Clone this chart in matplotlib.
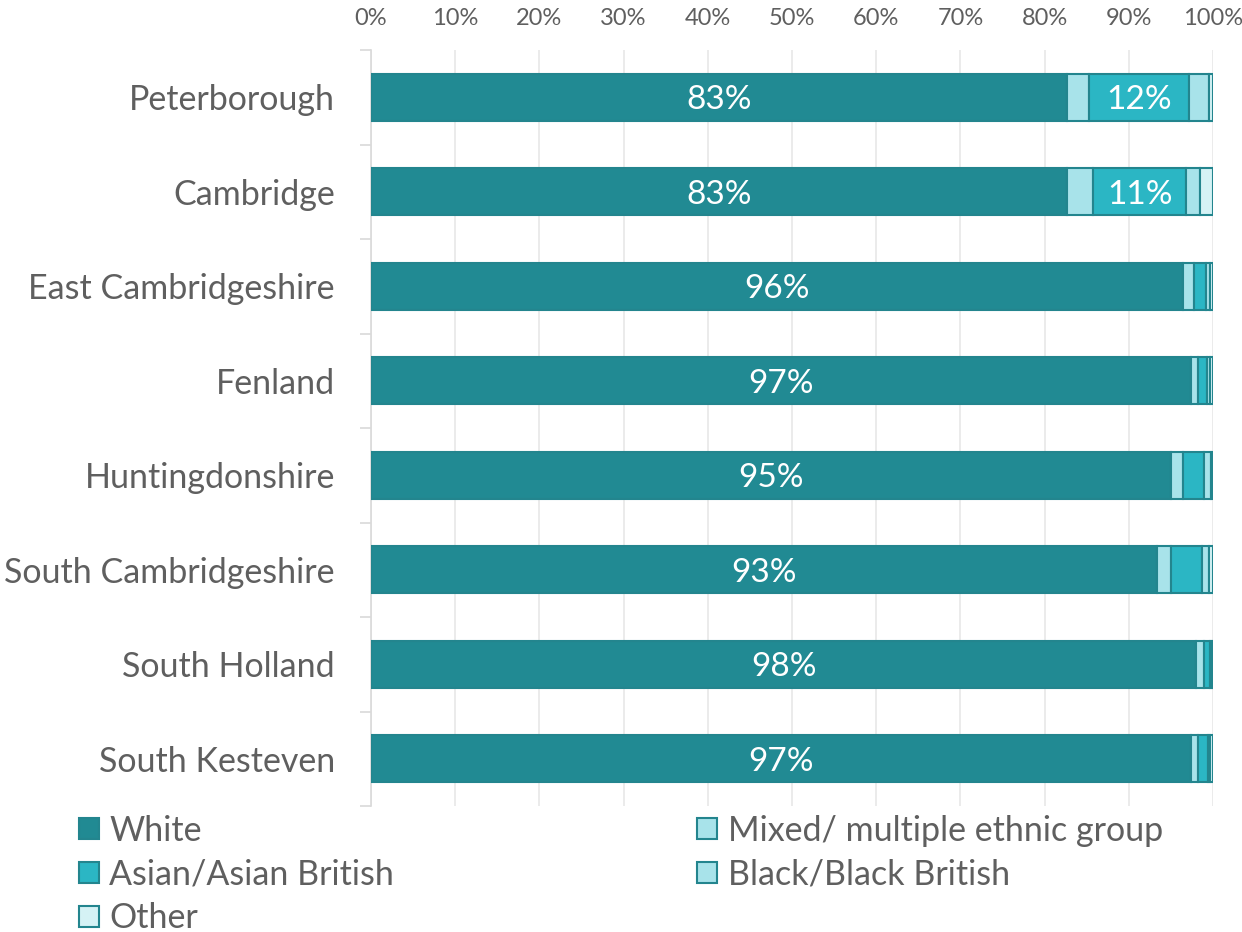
import numpy as np
import matplotlib.pyplot as plt
from matplotlib.patches import Patch

plt.rcParams['font.family'] = ['Lato', 'DejaVu Sans']

areas = ['Peterborough', 'Cambridge', 'East Cambridgeshire', 'Fenland',
         'Huntingdonshire', 'South Cambridgeshire', 'South Holland', 'South Kesteven']

# share of each group, %
white = [82.7, 82.7, 96.4, 97.4, 95.0, 93.4, 98.0, 97.4]
mixed = [2.6, 3.1, 1.3, 0.8, 1.4, 1.6, 0.9, 0.8]
asian = [11.8, 11.0, 1.5, 1.1, 2.5, 3.7, 0.8, 1.2]
black = [2.4, 1.7, 0.5, 0.4, 0.9, 0.8, 0.2, 0.3]
other = [0.5, 1.5, 0.3, 0.3, 0.2, 0.5, 0.1, 0.3]

series = [('White', white, '#218A93'),
          ('Mixed/ multiple ethnic group', mixed, '#A8E3EA'),
          ('Asian/Asian British', asian, '#2BB6C4'),
          ('Black/Black British', black, '#A8E3EA'),
          ('Other', other, '#D5F2F5')]

edge = '#23858E'
grey = '#5F5F5F'

fig = plt.figure(figsize=(12.42, 9.32), dpi=100)
ax = fig.add_axes([371 / 1242, 1 - 806 / 932, 842 / 1242, 756 / 932])

y = np.arange(len(areas))
left = np.zeros(len(areas))
handles = {}
for name, vals, col in series:
    vals = np.array(vals)
    ax.barh(y, vals, left=left, height=0.5, color=col, edgecolor=edge, linewidth=1.5, zorder=3)
    # labels only for the big segments
    if name in ('White', 'Asian/Asian British'):
        for yi, l, v in zip(y, left, vals):
            if v >= 10:
                ax.text(l + v / 2, yi, f'{round(v)}%', ha='center', va='center_baseline',
                        color='white', fontsize=24, zorder=4)
    left += vals
    handles[name] = Patch(facecolor=col, edgecolor=edge, linewidth=1.5)

ax.set_xlim(0, 100)
ax.set_ylim(len(areas) - 0.5, -0.5)
ax.set_xticks(np.arange(0, 101, 10))
ax.set_xticklabels([f'{v}%' for v in range(0, 101, 10)])
ax.xaxis.tick_top()
ax.tick_params(axis='x', length=0, labelsize=17, labelcolor=grey, pad=15)
ax.grid(axis='x', color='#E8E8E8', linewidth=1.2, zorder=0)

ax.set_yticks(y)
ax.set_yticklabels(areas)
ax.set_yticks(np.arange(-0.5, len(areas), 1), minor=True)
ax.tick_params(axis='y', which='major', length=0, labelsize=24.5, labelcolor=grey, pad=26)
ax.tick_params(axis='y', which='minor', length=8, color='#D9D9D9', width=1.2)

for s in ['top', 'right', 'bottom']:
    ax.spines[s].set_visible(False)
ax.spines['left'].set_color('#D9D9D9')
ax.spines['left'].set_linewidth(1.2)

order = ['White', 'Asian/Asian British', 'Other', 'Mixed/ multiple ethnic group', 'Black/Black British']
leg = fig.legend([handles[n] for n in order], order, loc='upper left',
                 bbox_to_anchor=(65 / 1242, 1 - 801 / 932), ncol=2, frameon=False,
                 fontsize=24.5, labelcolor=grey, handlelength=0.6, handleheight=0.6,
                 handletextpad=0.3, columnspacing=8.9, labelspacing=0.35, borderaxespad=0)

fig.savefig('out.png', dpi=100)
